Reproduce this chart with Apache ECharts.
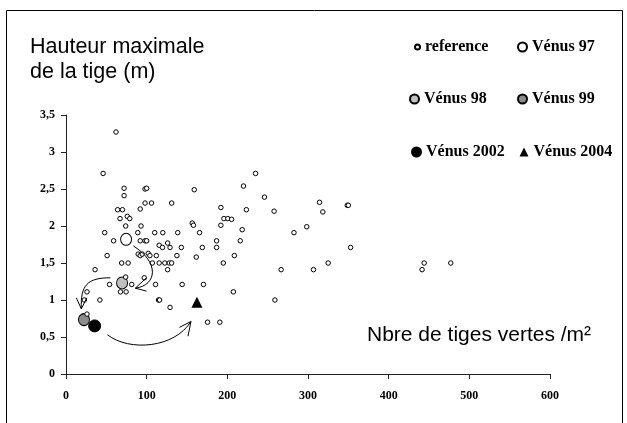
<!DOCTYPE html>
<html><head><meta charset="utf-8">
<script src="https://cdn.jsdelivr.net/npm/echarts@6/dist/echarts.min.js"></script>
<style>html,body{margin:0;padding:0;background:#fff}#c{width:627px;height:423px}</style>
</head><body><div id="c"></div>
<script>
// ---- data ----
const referencePoints = [
[62,3.27],[46,2.71],[72,2.51],[72,2.41],[98,2.50],[100,2.51],[64,2.22],[70,2.22],[92,2.23],[98,2.31],[106,2.31],[131,2.31],
[67,2.10],[76,2.13],[79,2.10],[74,2.00],[93,2.00],[48,1.91],[89,1.91],[110,1.91],[120,1.91],[138.5,1.91],
[59,1.80],[92,1.80],[98,1.80],[100,1.80],[115.5,1.74],[119.6,1.71],[126,1.77],[129,1.71],[143,1.71],
[51,1.60],[89.5,1.62],[92,1.60],[94.5,1.62],[102,1.63],[104,1.60],[112,1.60],[137.5,1.60],
[69,1.50],[77,1.50],[107,1.50],[115.5,1.50],[122.5,1.50],[128,1.50],[131,1.50],[126,1.41],[36,1.41],
[156.5,2.04],[158,2.01],[159,2.49],[165.6,1.91],[169,1.71],[161.5,1.58],[186.7,1.80],[186.7,1.71],[192,2.25],[192,2.01],
[195,1.50],[195.7,2.10],[200.6,2.10],[205.3,2.09],[208.7,1.60],[216,1.80],[218.4,1.95],[220,2.54],[223.6,2.22],[235,2.71],
[246,2.39],[258,2.20],[282.6,1.91],[298.4,1.99],[314.3,2.32],[318.4,2.19],[348.7,2.28],[350,2.28],[352.8,1.71],
[266.7,1.41],[306.8,1.41],[325,1.50],[444,1.50],[441.4,1.41],[477,1.50],
[74,1.31],[54,1.21],[81.5,1.21],[97,1.30],[111,1.21],[144,1.21],[170.4,1.21],[67.5,1.11],[74.5,1.11],[26,1.11],
[22.7,1.00],[42,1.00],[114.7,1.00],[116,1.00],[129,0.90],[207.5,1.11],[259,1.00],[175.5,0.70],[190.7,0.70],[26,0.81]
];
const venus97 = [[74.5,1.82]];
const venus98 = [[69.5,1.23]];
const venus99 = [[22.3,0.735]];
const venus2002 = [[35.5,0.65]];
const venus2004 = [[162.3,0.97]];
const xTicks = {min:0, max:600, interval:100};
const yTicks = {min:0, max:3.5, interval:0.5};
const yAxisTitle = 'Hauteur maximale\nde la tige (m)';
const xAxisTitle = 'Nbre de tiges vertes /m²';
// annotation arrows in data coordinates
const arrows = [
  {start:[83.6,1.73], cp1:[115.8,1.51], cp2:[113.3,1.20], end:[86.0,1.16], head:[[99.7,1.30],[99.7,1.12]]},
  {start:[55.0,1.30], cp1:[26.4,1.30], cp2:[17.8,1.20], end:[19.0,0.88], head:[[12.8,1.03],[25.8,1.03]]},
  {start:[51.3,0.53], cp1:[78.6,0.30], cp2:[134.5,0.35], end:[154.9,0.71], head:[[140.7,0.63],[151.2,0.51]]}
];

const chart = echarts.init(document.getElementById('c'), null, {renderer:'canvas'});
const serif = "'Liberation Serif','Times New Roman',serif";
const sans = "'Liberation Sans',Arial,sans-serif";
const legendText = {fontFamily:serif, fontWeight:'bold', fontSize:16, color:'#000', lineHeight:16};
function lg(name, left, cy, size){
  return {data:[name], left:left, top:cy-8, padding:0, itemWidth:size, itemHeight:size,
    selectedMode:false, textStyle:legendText, itemGap:0};
}
const option = {
  animation:false,
  backgroundColor:'#fff',
  title:[
    {text:yAxisTitle, left:30, top:35, padding:0, textStyle:{fontFamily:sans, fontWeight:'normal', fontSize:21.5, lineHeight:25, color:'#000'}},
    {text:xAxisTitle, left:367, top:323, padding:0, textStyle:{fontFamily:sans, fontWeight:'normal', fontSize:21, lineHeight:24, color:'#000'}}
  ],
  legend:[
    lg('reference', 414, 47, 5),
    lg('Vénus 97', 517, 47, 9),
    lg('Vénus 98', 409, 99, 9),
    lg('Vénus 99', 517, 99, 9),
    lg('Vénus 2002', 411, 152, 9),
    lg('Vénus 2004', 519.5, 152, 9)
  ],
  grid:{left:66, right:77, top:115, bottom:49, containLabel:false},
  xAxis:{type:'value', min:xTicks.min, max:xTicks.max, interval:xTicks.interval,
    axisLine:{show:true, lineStyle:{color:'#222', width:1}},
    axisTick:{show:true, length:5, lineStyle:{color:'#222'}},
    splitLine:{show:false},
    axisLabel:{margin:16, fontFamily:serif, fontWeight:'bold', fontSize:12, color:'#000'}},
  yAxis:{type:'value', min:yTicks.min, max:yTicks.max, interval:yTicks.interval,
    axisLine:{show:true, lineStyle:{color:'#222', width:1}},
    axisTick:{show:true, length:5, lineStyle:{color:'#222'}},
    splitLine:{show:false},
    axisLabel:{margin:11, fontFamily:serif, fontWeight:'bold', fontSize:12, color:'#000',
      formatter:v=>String(v).replace('.',',')}},
  series:[
    {name:'Vénus 97', type:'scatter', data:venus97, symbol:'circle', symbolSize:[11,12],
      itemStyle:{color:'#fff', borderColor:'#000', borderWidth:1, opacity:1}},
    {name:'Vénus 98', type:'scatter', data:venus98, symbol:'circle', symbolSize:[11,12],
      itemStyle:{color:'#c0c0c0', borderColor:'#000', borderWidth:1, opacity:1}},
    {name:'Vénus 99', type:'scatter', data:venus99, symbol:'circle', symbolSize:[11,12],
      itemStyle:{color:'#8c8c8c', borderColor:'#000', borderWidth:1, opacity:1}},
    {name:'Vénus 2002', type:'scatter', data:venus2002, symbol:'circle', symbolSize:12,
      itemStyle:{color:'#000', borderColor:'#000', borderWidth:1, opacity:1}},
    {name:'Vénus 2004', type:'scatter', data:venus2004, symbol:'triangle', symbolSize:[11,11],
      itemStyle:{color:'#000', opacity:1}},
    {name:'reference', type:'scatter', data:referencePoints, symbol:'circle', symbolSize:4.5, z:3,
      itemStyle:{color:'#fff', borderColor:'#000', borderWidth:1, opacity:1}}
  ]
};
chart.setOption(option);
const px = p => chart.convertToPixel({gridIndex:0}, p);
const gfx = [{type:'rect', shape:{x:6.5, y:10.5, width:616, height:430}, style:{fill:null, stroke:'#000', lineWidth:1}, z:-1}];
arrows.forEach(a=>{
  const s=px(a.start), c1=px(a.cp1), c2=px(a.cp2), e=px(a.end), h1=px(a.head[0]), h2=px(a.head[1]);
  gfx.push({type:'bezierCurve', shape:{x1:s[0],y1:s[1],cpx1:c1[0],cpy1:c1[1],cpx2:c2[0],cpy2:c2[1],x2:e[0],y2:e[1]},
    style:{stroke:'#000', lineWidth:1, fill:null}, z:10});
  gfx.push({type:'polyline', shape:{points:[h1,e,h2]}, style:{stroke:'#000', lineWidth:1, fill:null}, z:10});
});
chart.setOption({graphic:gfx});
</script></body></html>
